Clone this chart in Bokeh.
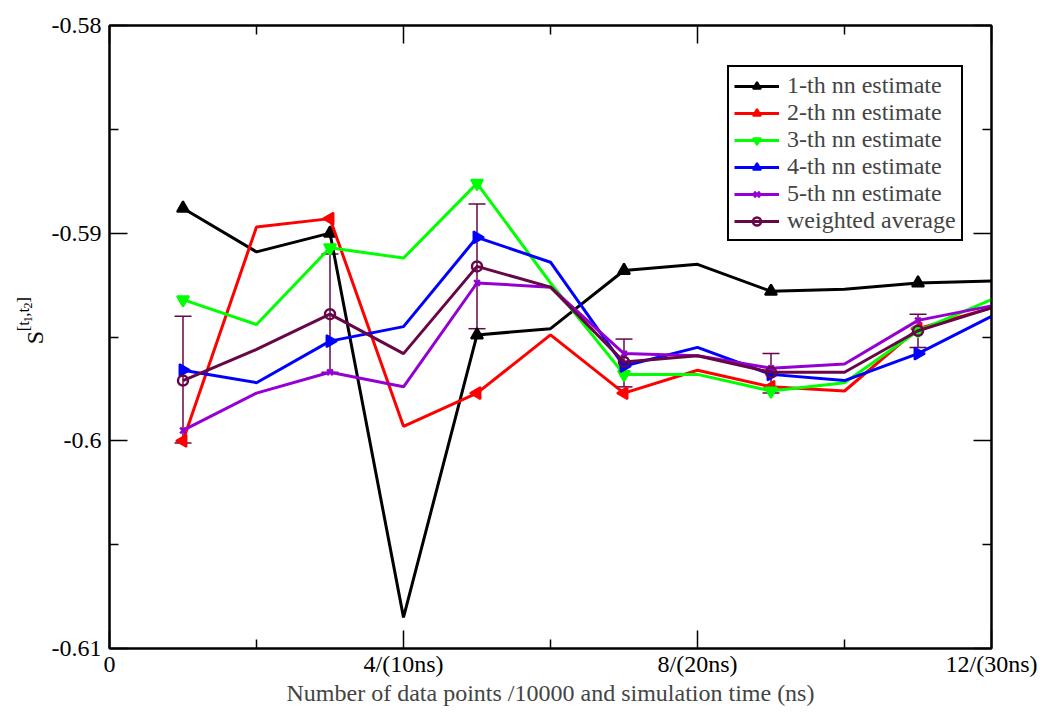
import math
from bokeh.plotting import figure
from bokeh.layouts import row
from bokeh.models import (LinearAxis, FixedTicker, Whisker, TeeHead, Legend,
                          LegendItem, Range1d, ColumnDataSource)
from bokeh.core.properties import value
from bokeh.embed import file_html
from bokeh.resources import INLINE

# ---------------- data ----------------
x = [1, 2, 3, 4, 5, 6, 7, 8, 9, 10, 11, 12]
nn1 = [-0.5888, -0.5909, -0.5900, -0.6085, -0.5949, -0.5946, -0.5918, -0.5915, -0.5928, -0.5927, -0.5924, -0.5923]
nn2 = [-0.6000, -0.5897, -0.5893, -0.5993, -0.5977, -0.5949, -0.5977, -0.5966, -0.5974, -0.5976, -0.5946, -0.5936]
nn3 = [-0.5932, -0.5944, -0.5907, -0.5912, -0.5876, -0.5924, -0.5968, -0.5968, -0.5976, -0.5972, -0.5947, -0.5932]
nn4 = [-0.5966, -0.5972, -0.5952, -0.5945, -0.5902, -0.5914, -0.5964, -0.5955, -0.5968, -0.5971, -0.5958, -0.5940]
nn5 = [-0.5995, -0.5977, -0.5967, -0.5974, -0.5924, -0.5926, -0.5958, -0.5959, -0.5965, -0.5963, -0.5942, -0.5935]
avg = [-0.5971, -0.5956, -0.5939, -0.5958, -0.5916, -0.5926, -0.5962, -0.5959, -0.5967, -0.5967, -0.5947, -0.5936]

err_x = [1, 3, 5, 7, 9, 11]
err_upper = [-0.5940, -0.5910, -0.5886, -0.5951, -0.5958, -0.5939]
err_lower = [-0.6001, -0.5967, -0.5946, -0.5974, -0.5977, -0.5955]

labels = ["1-th nn estimate", "2-th nn estimate", "3-th nn estimate",
          "4-th nn estimate", "5-th nn estimate", "weighted average"]

x_major = [0, 4, 8, 12]
x_minor = [2, 6, 10]
x_tick_labels = ["0", "4/(10ns)", "8/(20ns)", "12/(30ns)"]
y_major = [-0.61, -0.6, -0.59, -0.58]
y_minor = [-0.605, -0.595, -0.585]
y_tick_labels = ["-0.61", "-0.6", "-0.59", "-0.58"]

FONT = "Liberation Serif"
colors = ["#000000", "#ff0000", "#00ff00", "#0000ff", "#9400d3", "#670748"]

LBL_W = 48
TOTAL_H = 719

# ---------------- main figure ----------------
X0, X1, Y0, Y1 = 0, 12, -0.61, -0.58
p = figure(frame_width=882, frame_height=623,
           x_range=Range1d(X0, X1), y_range=Range1d(Y0, Y1),
           output_backend="svg", toolbar_location=None,
           min_border_left=109 - LBL_W, min_border_right=51,
           min_border_top=25, min_border_bottom=71)
p.xgrid.visible = False
p.ygrid.visible = False
p.outline_line_color = "black"
p.outline_line_width = 2
p.background_fill_color = "white"
p.border_fill_color = "white"

xt = FixedTicker(ticks=x_major, minor_ticks=x_minor)
yt = FixedTicker(ticks=y_major, minor_ticks=y_minor)


def style_axis(ax, show_labels):
    ax.axis_line_width = 2
    ax.axis_line_color = "black"
    ax.major_tick_in = 18
    ax.major_tick_out = 0
    ax.minor_tick_in = 9
    ax.minor_tick_out = 0
    ax.major_tick_line_width = 1.5
    ax.minor_tick_line_width = 1.5
    ax.major_label_text_font = FONT
    ax.major_label_text_font_size = "24px"
    ax.major_label_text_color = "black"
    if not show_labels:
        ax.major_label_text_font_size = "0px"
        ax.major_label_text_alpha = 0


xa = p.xaxis[0]
xa.ticker = xt
style_axis(xa, True)
xa.major_label_overrides = {v: s for v, s in zip(x_major, x_tick_labels)}
xa.major_label_standoff = 2
xa.axis_label = "Number of data points /10000 and simulation time (ns)"
xa.axis_label_text_font = FONT
xa.axis_label_text_font_size = "24px"
xa.axis_label_text_font_style = "normal"
xa.axis_label_standoff = 0

ya = p.yaxis[0]
ya.ticker = yt
style_axis(ya, True)
ya.major_label_overrides = {v: s for v, s in zip(y_major, y_tick_labels)}
ya.major_label_standoff = 8
ya.major_label_orientation = "horizontal"

ra = LinearAxis(ticker=yt)
style_axis(ra, False)
p.add_layout(ra, "right")
ta = LinearAxis(ticker=xt)
style_axis(ta, False)
p.add_layout(ta, "above")

# ---------------- error bars ----------------
esrc = ColumnDataSource(dict(x=err_x, upper=err_upper, lower=err_lower))
wh = Whisker(source=esrc, base="x", upper="upper", lower="lower",
             line_color=colors[5], line_width=1.5,
             upper_head=TeeHead(size=17, line_color=colors[5], line_width=1.5),
             lower_head=TeeHead(size=17, line_color=colors[5], line_width=1.5))
p.add_layout(wh)

# ---------------- series ----------------
series = [nn1, nn2, nn3, nn4, nn5, avg]
markers = [("triangle", 0.0), ("triangle", math.pi / 2), ("inverted_triangle", 0.0),
           ("triangle", -math.pi / 2), ("x", 0.0), ("circle", 0.0)]
items = []
for ys, col, (mk, ang), lab in zip(series, colors, markers, labels):
    lr = p.line(x, ys, line_color=col, line_width=3)
    mx = x[::2]
    my = ys[::2]
    if mk == "circle":
        sr = p.scatter(mx, my, marker="circle", size=10, line_color=col,
                       line_width=2.5, fill_color=None)
    elif mk == "x":
        sr = p.scatter(mx, my, marker="x", size=8, line_color=col, line_width=2.5)
    else:
        sr = p.scatter(mx, my, marker=mk, angle=ang, size=12, line_color=col,
                       line_width=2, fill_color=col)
    items.append(LegendItem(label=lab, renderers=[lr, sr]))

legend = Legend(items=items, location=(618, 407),
                label_text_font=FONT, label_text_font_size="24px",
                border_line_color="black", border_line_width=2, border_line_alpha=1,
                background_fill_color="white", background_fill_alpha=1,
                glyph_width=45, glyph_height=20, label_height=20,
                label_standoff=8, spacing=0, padding=5, margin=0)
p.add_layout(legend)

# ---------------- y axis label  S^[t1,t2] (separate narrow panel) ----------------
lf = figure(width=LBL_W, height=TOTAL_H, x_range=Range1d(0, LBL_W),
            y_range=Range1d(TOTAL_H, 0), output_backend="svg",
            toolbar_location=None, min_border=0, x_axis_location=None,
            y_axis_location=None)
lf.xgrid.visible = False
lf.ygrid.visible = False
lf.outline_line_color = None
lf.border_fill_color = "white"
lf.background_fill_color = "white"

parts = [("S", 24, 34, 368),
         ("[t", 17, 23, 353),
         ("1", 12, 27, 342.5),
         (",t", 17, 23, 336),
         ("2", 12, 27, 326.5),
         ("]", 17, 23, 320)]
for txt, fs, px, py in parts:
    lf.text(x=[px], y=[py], text=[txt], angle=math.pi / 2,
            text_font=value(FONT), text_font_size=f"{fs}px",
            text_align="left", text_baseline="alphabetic", text_color="black")

layout = row(lf, p, spacing=0)
open("out.html", "w").write(file_html(layout, INLINE))
